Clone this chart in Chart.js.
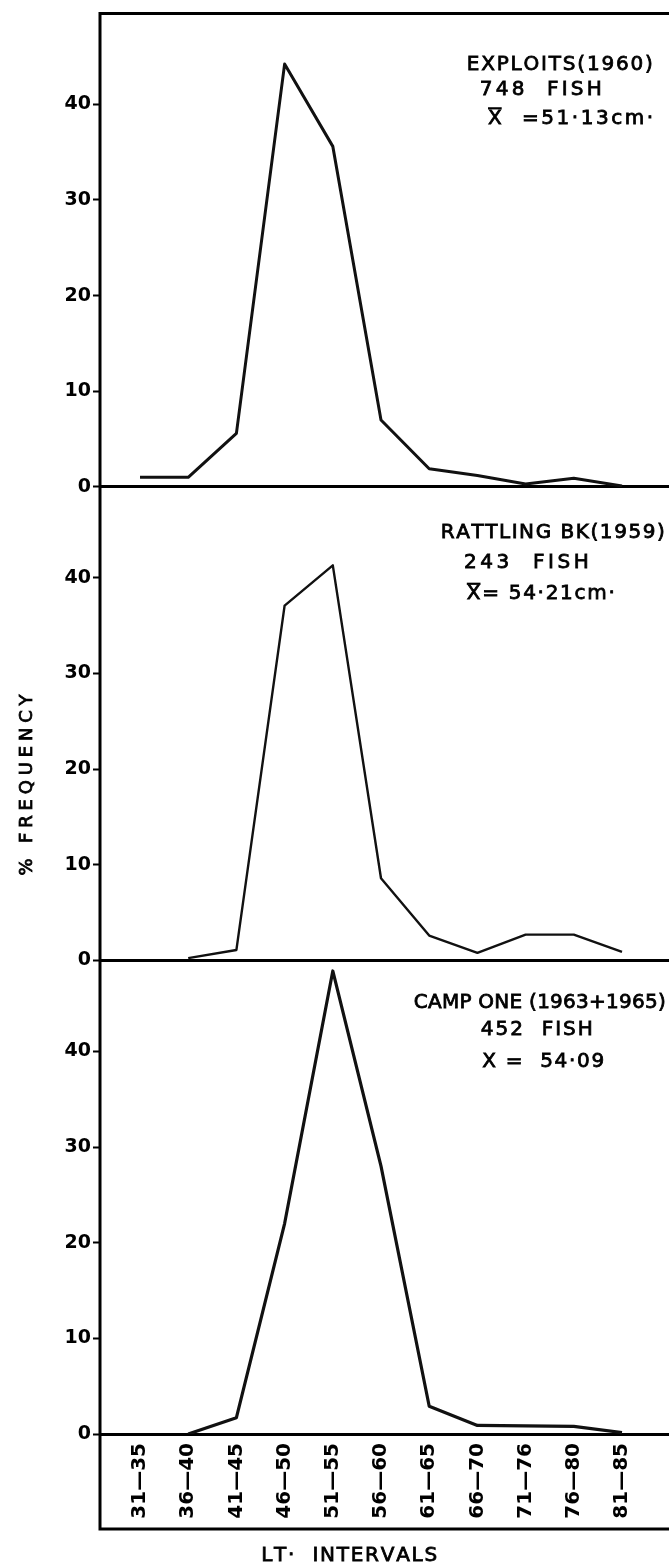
<!DOCTYPE html>
<html>
<head>
<meta charset="utf-8">
<script src="https://cdn.jsdelivr.net/npm/chart.js@4/dist/chart.umd.min.js"></script>
<style>
html,body{margin:0;padding:0;background:#fff;}
#wrap{width:669px;height:1567px;position:relative;}
</style>
</head>
<body>
<div id="wrap"><canvas id="c"></canvas></div>
<script>
// ---- data ----
const categories = ['31—35','36—40','41—45','46—50','51—55','56—60','61—65','66—70','71—76','76—80','81—85'];
const exploits1960   = [1.0, 1.0, 5.6, 44.2, 35.6, 7.0, 1.9, 1.2, 0.3, 0.9, 0.1];
const rattlingBk1959 = [null, 0.25, 1.1, 37.1, 41.3, 8.6, 2.6, 0.8, 2.7, 2.7, 0.9];
const campOne6365    = [null, 0.0, 1.7, 22.0, 48.4, 28.0, 2.9, 0.9, 0.85, 0.8, 0.15];
const yTickValues = [0, 10, 20, 30, 40];

// ---- text annotations (data-space anchors, kept apart from the data) ----
const notesA = [
  {text:'EXPLOITS(1960)', x:6.78, y:44.1, w:186},
  {text:'748  FISH', x:7.05, y:41.5, w:122},
  {text:'X  =51·13cm·', x:7.22, y:38.5, w:165, bar:true}
];
const notesB = [
  {text:'RATTLING BK(1959)', x:6.24, y:44.7, w:224},
  {text:'243  FISH', x:6.72, y:41.6, w:125},
  {text:'X= 54·21cm·', x:6.78, y:38.3, w:148, bar:true}
];
const notesC = [
  {text:'CAMP ONE (1963+1965)', x:5.68, y:45.1, w:252},
  {text:'452  FISH', x:7.07, y:42.3, w:112},
  {text:'X =  54·09', x:7.10, y:38.9, w:122}
];

const FAMILY = '"DejaVu Sans", "Liberation Sans", sans-serif';

const panels = [
  {id:'yA', values: exploits1960, lw: 3.0, notes: notesA},
  {id:'yB', values: rattlingBk1959, lw: 2.4, notes: notesB},
  {id:'yC', values: campOne6365, lw: 3.2, notes: notesC}
];

function drawSpaced(ctx, text, x, y, width, bar, size) {
  const chars = [...text];
  const widths = chars.map(c => ctx.measureText(c).width);
  const natural = widths.reduce((a, b) => a + b, 0);
  const gap = chars.length > 1 ? (width - natural) / (chars.length - 1) : 0;
  let cx = x;
  chars.forEach((c, i) => {
    ctx.fillText(c, cx, y);
    ctx.strokeText(c, cx, y);
    cx += widths[i] + gap;
  });
  if (bar) {
    const capH = size * 0.73;
    const by = y - capH / 2 - 3;
    ctx.save();
    ctx.lineWidth = 2.2;
    ctx.beginPath();
    ctx.moveTo(x, by);
    ctx.lineTo(x + widths[0], by);
    ctx.stroke();
    ctx.restore();
  }
}

const framePlugin = {
  id: 'frame',
  afterDraw(chart) {
    const {ctx, chartArea: a, scales} = chart;
    const xs = scales.x;
    ctx.save();
    ctx.strokeStyle = '#000';
    ctx.fillStyle = '#000';
    ctx.lineWidth = 3;
    ctx.lineCap = 'square';
    ctx.beginPath();
    ctx.moveTo(a.right + 2, a.top);
    ctx.lineTo(a.left, a.top);
    ctx.lineTo(a.left, xs.bottom);
    ctx.lineTo(a.right + 2, xs.bottom);
    ctx.stroke();

    // panel notes (slightly stroked to mimic the heavy lettering)
    const size = 20;
    ctx.font = size + 'px ' + FAMILY;
    ctx.textBaseline = 'middle';
    ctx.textAlign = 'left';
    ctx.lineWidth = 0.8;
    ctx.lineCap = 'butt';
    panels.forEach(p => {
      const ys = scales[p.id];
      p.notes.forEach(n => {
        drawSpaced(ctx, n.text, xs.getPixelForValue(n.x), ys.getPixelForValue(n.y), n.w, n.bar, size);
      });
    });

    // y axis title
    ctx.save();
    ctx.font = '18px ' + FAMILY;
    ctx.lineWidth = 0.8;
    ctx.translate(scales.yB.left + 27, scales.yB.getPixelForValue(18.3));
    ctx.rotate(-Math.PI / 2);
    drawSpaced(ctx, '% FREQUENCY', -90, 0, 181, false, 18);
    ctx.restore();

    // x axis title
    ctx.font = '20px ' + FAMILY;
    ctx.lineWidth = 0.8;
    drawSpaced(ctx, 'LT·  INTERVALS', xs.getPixelForValue(4.34) - 88, xs.bottom + 27, 176, false, 20);
    ctx.restore();
  }
};

function yScale(id) {
  return {
    type: 'linear', position: 'left', stack: 'panels', stackWeight: 1, min: 0, max: 49.5,
    afterBuildTicks: s => { s.ticks = yTickValues.map(v => ({value: v})); },
    afterFit: s => { s.width = 100; },
    grid: {
      display: true, drawOnChartArea: true, drawTicks: true,
      color: c => (c.tick && c.tick.value === 0) ? '#000' : 'rgba(0,0,0,0)',
      lineWidth: c => (c.tick && c.tick.value === 0) ? 3 : 1,
      tickColor: '#000', tickWidth: 2, tickLength: 7
    },
    border: {display: false},
    ticks: { color: '#000', padding: 2, font: {family: FAMILY, size: 19, weight: 'bold'}, callback: v => String(v) }
  };
}

const datasets = panels.map(p => ({
  data: p.values.map((v, i) => ({x: i, y: v})),
  yAxisID: p.id, xAxisID: 'x',
  borderColor: '#111', borderWidth: p.lw, borderJoinStyle: 'round',
  pointRadius: 0, tension: 0, fill: false, spanGaps: false
}));

new Chart(document.getElementById('c'), {
  type: 'line',
  data: {datasets},
  options: {
    responsive: true, maintainAspectRatio: false, animation: false,
    layout: {padding: {top: 6, right: 0, bottom: 38, left: 0}},
    plugins: {legend: {display: false}, title: {display: false}, tooltip: {enabled: false}},
    scales: {
      x: {
        type: 'linear', position: 'bottom', min: -0.83, max: 10.975,
        afterBuildTicks: s => { s.ticks = categories.map((_, i) => ({value: i})); },
        afterFit: s => { s.height = 95; },
        grid: {display: false, drawTicks: false},
        border: {display: false},
        ticks: {
          autoSkip: false, minRotation: 90, maxRotation: 90, padding: 9, color: '#000',
          font: {family: FAMILY, size: 20, weight: 'bold'},
          callback: v => categories[Math.round(v)]
        }
      },
      yC: yScale('yC'), yB: yScale('yB'), yA: yScale('yA')
    }
  },
  plugins: [framePlugin]
});
</script>
</body>
</html>
